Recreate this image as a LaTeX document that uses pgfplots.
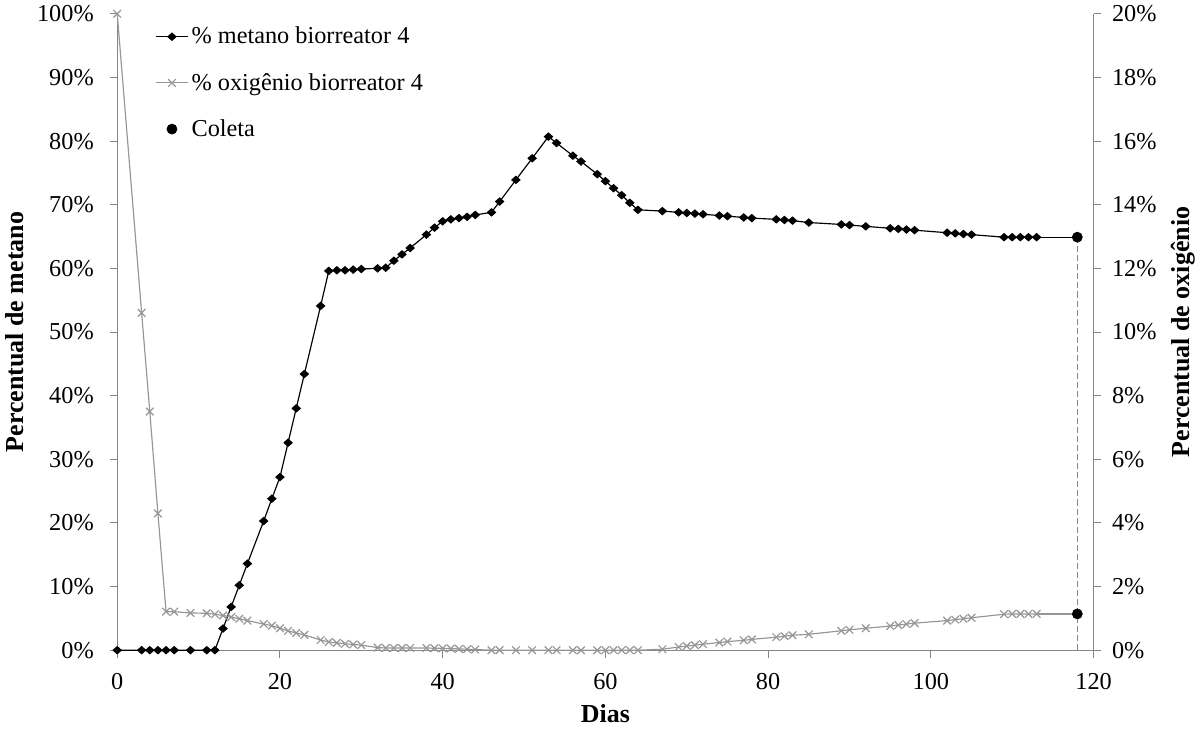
\documentclass[border=0pt]{standalone}
\usepackage{fontspec}
\setmainfont{Liberation Serif}
\usepackage{pgfplots}
\pgfplotsset{compat=1.18}
\definecolor{axgray}{RGB}{134,134,134}
\definecolor{oxgray}{RGB}{150,150,150}

\pgfplotsset{
  base/.style={
    width=583pt, height=380pt, scale only axis,
    xmin=0, xmax=120,
    tick align=outside,
    major tick length=4.5pt,
    tick style={axgray, line width=0.6pt},
    axis line style={axgray, line width=0.8pt},
    ticklabel style={font=\fontsize{14.5}{16}\selectfont},
    /pgf/number format/assume math mode=true,
    label style={font=\fontsize{15.5}{17}\selectfont\bfseries},
  },
  metstyle/.style={black, line width=0.7pt, mark=diamond*, mark size=2.1pt, mark options={solid, xscale=1.5}},
  oxstyle/.style={oxgray, line width=0.7pt, mark=x, mark size=3.2pt, mark options={solid}},
}

\pgfplotstableread{
dia met
0 0
3 0
4 0
5 0
6 0
7 0
9 0
11 0
12 0
13 3.4
14 6.8
15 10.2
16 13.6
18 20.3
19 23.8
20 27.2
21 32.6
22 38.0
23 43.4
25 54.1
26 59.6
27 59.7
28 59.7
29 59.8
30 59.9
32 60.0
33 60.1
34 61.2
35 62.2
36 63.2
38 65.3
39 66.4
40 67.4
41 67.7
42 67.9
43 68.1
44 68.4
46 68.8
47 70.5
49 73.9
51 77.3
53 80.7
54 79.7
56 77.7
57 76.8
59 74.8
60 73.7
61 72.6
62 71.5
63 70.3
64 69.2
67 69.0
69 68.8
70 68.7
71 68.6
72 68.5
74 68.3
75 68.2
77 68.0
78 67.9
81 67.7
82 67.6
83 67.5
85 67.2
89 66.9
90 66.8
92 66.6
95 66.3
96 66.2
97 66.1
98 66.0
102 65.6
103 65.5
104 65.4
105 65.3
109 64.9
110 64.9
111 64.9
112 64.9
113 64.9
}\metano

\pgfplotstableread{
dia ox
0 20
3 10.6
4 7.5
5 4.3
6 1.21
7 1.21
9 1.17
11 1.16
12 1.13
13 1.09
14 1.04
15 0.99
16 0.93
18 0.82
19 0.77
20 0.69
21 0.61
22 0.54
23 0.48
25 0.32
26 0.26
27 0.23
28 0.20
29 0.18
30 0.16
32 0.08
33 0.07
34 0.07
35 0.07
36 0.07
38 0.07
39 0.06
40 0.06
41 0.05
42 0.04
43 0.03
44 0.02
46 0
47 0
49 0
51 0
53 0
54 0
56 0
57 0
59 0
60 0
61 0
62 0
63 0
64 0
67 0.03
69 0.10
70 0.13
71 0.16
72 0.19
74 0.24
75 0.27
77 0.31
78 0.34
81 0.41
82 0.44
83 0.47
85 0.50
89 0.61
90 0.64
92 0.69
95 0.76
96 0.79
97 0.82
98 0.85
102 0.93
103 0.96
104 0.99
105 1.02
109 1.13
110 1.14
111 1.14
112 1.14
113 1.14
}\oxigenio

\begin{document}
\begin{tikzpicture}
\begin{axis}[
  base,
  ymin=0, ymax=100,
  ytick={0,10,...,100},
  xtick={0,20,...,120},
  axis x line*=bottom,
  axis y line*=left,
  yticklabel={\pgfmathprintnumber{\tick}\%},
  yticklabel style={xshift=-6pt},
  xticklabel style={yshift=-6pt},
  xlabel={Dias},
  ylabel={Percentual de metano},
  xlabel style={yshift=-2pt},
  ylabel style={yshift=1pt},
]
\addplot[axgray, line width=0.6pt, dash pattern=on 3.6pt off 1.8pt] coordinates {(118,0) (118,64.9)};
\addplot[metstyle] table[x=dia, y=met] {\metano};
\addplot[black, line width=0.7pt] coordinates {(113,64.9) (118,64.9)};
\addplot[black, only marks, mark=*, mark size=3pt] coordinates {(118,64.9)};
\end{axis}
\begin{axis}[
  base,
  ymin=0, ymax=20,
  ytick={0,2,...,20},
  axis y line*=right,
  axis x line=none,
  yticklabel={\pgfmathprintnumber{\tick}\%},
  yticklabel style={xshift=3pt},
  ylabel={Percentual de oxigênio},
  ylabel style={yshift=-2pt},
  legend style={at={(0.039,0.985)}, anchor=north west, draw=none, fill=none,
    font=\fontsize{14.5}{16}\selectfont, row sep=12pt, inner sep=0pt},
  legend cell align=left,
  legend image code/.code={\draw[mark repeat=2,mark phase=2] plot coordinates {(0cm,0cm) (0.33cm,0cm) (0.66cm,0cm)};},
]
\addlegendimage{metstyle}
\addlegendentry{\% metano biorreator 4}
\addplot[oxstyle] table[x=dia, y=ox] {\oxigenio};
\addlegendentry{\% oxigênio biorreator 4}
\addplot[oxgray, line width=0.7pt, forget plot] coordinates {(113,1.14) (118,1.14)};
\addplot[black, only marks, mark=*, mark size=3pt] coordinates {(118,1.14)};
\addlegendentry{Coleta}
\end{axis}
\end{tikzpicture}
\end{document}
